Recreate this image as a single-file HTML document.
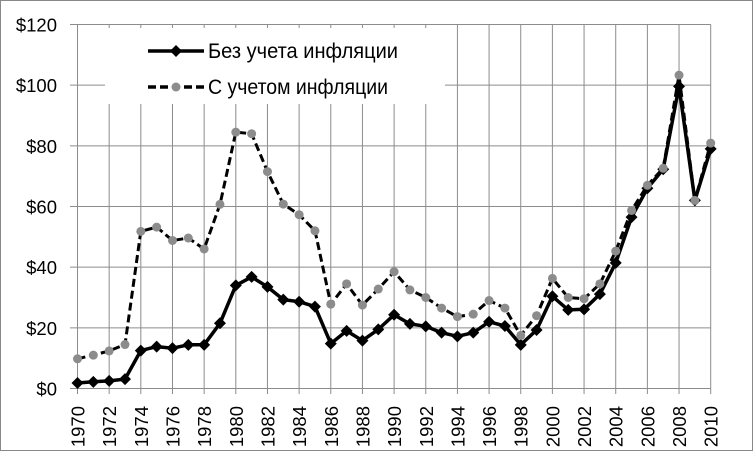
<!DOCTYPE html>
<html><head><meta charset="utf-8"><style>
body{margin:0;background:#fff;}
svg{display:block;font-family:"Liberation Sans",sans-serif;}
</style></head><body>
<svg id="s" width="753" height="451" viewBox="0 0 753 451" xmlns="http://www.w3.org/2000/svg">
<rect x="0.5" y="0.5" width="752" height="450" fill="#fff" stroke="#888" stroke-width="1"/>
<g id="grid" stroke="#8c8c8c" stroke-width="1"></g>
<g id="ylab" font-size="18.5" fill="#000" text-anchor="end"></g>
<g id="xlab" font-size="18.5" fill="#000"></g>
<g id="series"></g>
<rect x="105" y="28" width="340" height="76" fill="#fff"/>
<line x1="148" y1="51" x2="204" y2="51" stroke="#000" stroke-width="3.5"/>
<polygon points="176,45 182,51 176,57 170,51" fill="#000"/>
<line x1="148" y1="87" x2="204" y2="87" stroke="#000" stroke-width="3.5" stroke-dasharray="8,4"/>
<circle cx="176" cy="87" r="4.5" fill="#8c8c8c"/>
<text x="208" y="58" font-size="21" textLength="190" lengthAdjust="spacingAndGlyphs">Без учета инфляции</text>
<text x="208" y="94" font-size="21" textLength="180" lengthAdjust="spacingAndGlyphs">С учетом инфляции</text>
</svg>
<script>
var ns="http://www.w3.org/2000/svg";
function el(t,a,p){var e=document.createElementNS(ns,t);for(var k in a)e.setAttribute(k,a[k]);document.getElementById(p).appendChild(e);return e;}
var X0=77.5,DX=(710.7-77.5)/40,Y0=388.5,K=(388.5-24.5)/120;
function X(i){return X0+i*DX;}function Y(v){return Y0-v*K;}
for(var v=0;v<=120;v+=20){el('line',{x1:70,x2:710.7,y1:Y(v),y2:Y(v)},'grid');
var t=el('text',{x:57,y:Y(v)+7},'ylab');t.textContent='$'+v;}
for(var i=0;i<=40;i+=2){el('line',{x1:X(i),x2:X(i),y1:24.5,y2:394},'grid');
var t=el('text',{x:0,y:0,transform:'translate('+(X(i)+7)+',406) rotate(-90)','text-anchor':'end'},'xlab');t.textContent=1970+i;}
var nom=[1.8,2.2,2.5,3.1,12.5,13.8,13.3,14.4,14.4,21.5,34,36.8,33.5,29.3,28.6,27,14.8,19,15.8,19.5,24.3,21.3,20.5,18.4,17.2,18.4,22,20.6,14.4,19.3,30.4,25.9,26.1,31.1,41.4,56.5,66,72.3,99.6,62,79];
var real=[9.8,11,12.4,14.5,51.8,53.2,48.8,49.6,46,60.7,84.5,84,71.5,60.8,57.3,52,27.8,34.5,27.5,32.8,38.5,32.5,30,26.5,23.7,24.5,29,26.5,17.5,24,36.3,30,29.6,34.5,45.3,58.7,67,72.6,103.3,62,80.9];
function pts(a){return a.map(function(v,i){return X(i).toFixed(1)+','+Y(v).toFixed(1)}).join(' ');}
el('polyline',{points:pts(nom),fill:'none',stroke:'#000','stroke-width':3.5,'stroke-linejoin':'round'},'series');
nom.forEach(function(v,i){var x=X(i),y=Y(v);el('polygon',{points:(x)+','+(y-6)+' '+(x+6)+','+y+' '+x+','+(y+6)+' '+(x-6)+','+y,fill:'#000'},'series');});
el('polyline',{points:pts(real),fill:'none',stroke:'#000','stroke-width':3,'stroke-dasharray':'8,4','stroke-linejoin':'round'},'series');
real.forEach(function(v,i){el('circle',{cx:X(i),cy:Y(v),r:4.5,fill:'#8c8c8c'},'series');});
</script>
</body></html>
